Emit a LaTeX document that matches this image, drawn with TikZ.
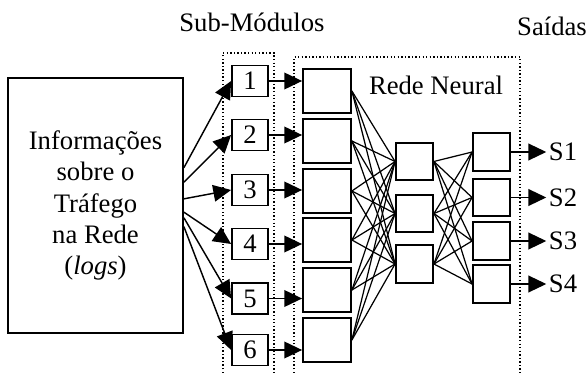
\documentclass[tikz,border=0pt]{standalone}
\usepackage{fontspec}
\setmainfont{Liberation Serif}
\usetikzlibrary{arrows.meta}

\begin{document}
\begin{tikzpicture}[
    x=0.45pt, y=-0.45pt,
    font=\fontsize{12}{14}\selectfont,
    bignode/.style={rectangle, draw, line width=0.8pt, minimum width=78.75pt, minimum height=114.75pt, align=center, inner sep=0pt},
    subnode/.style={rectangle, draw, line width=0.8pt, minimum width=16.2pt, minimum height=14pt, inner sep=0pt},
    inpnode/.style={rectangle, draw, line width=0.8pt, minimum width=21.6pt, minimum height=19.8pt, inner sep=0pt},
    neunode/.style={rectangle, draw, line width=0.8pt, minimum width=16.7pt, minimum height=16.9pt, inner sep=0pt},
    bigarrow/.style={-{Triangle[length=8pt,width=7.5pt]}, line width=0.65pt},
    frame/.style={densely dotted, line width=0.6pt},
    link/.style={line width=0.55pt},
]
    \useasboundingbox (0,0) rectangle (587,373);

    %Frames
    \draw[frame] (223,380) |- (274,53) -- (274,380);
    \draw[frame] (294,380) |- (520,57) -- (520,380);

    %Nodes
    \node[bignode] (info) at (95.5,205.5) {Informações\\sobre o\\Tráfego\\na Rede\\(\textit{logs})};
    \node[anchor=base] (subtitle) at (252,32) {Sub-Módulos};
    \node[anchor=base] (outtitle) at (552,36) {Saídas};
    \node[anchor=base] (nettitle) at (436,95) {Rede Neural};

    \node[subnode] (sub1) at (250,81) {1};
    \node[subnode] (sub2) at (250,135) {2};
    \node[subnode] (sub3) at (250,190) {3};
    \node[subnode] (sub4) at (250,244) {4};
    \node[subnode] (sub5) at (250,298.5) {5};
    \node[subnode] (sub6) at (250,350) {6};

    \node[inpnode] (inp1) at (327,91) {};
    \node[inpnode] (inp2) at (327,141) {};
    \node[inpnode] (inp3) at (327,191) {};
    \node[inpnode] (inp4) at (327,240) {};
    \node[inpnode] (inp5) at (327,290) {};
    \node[inpnode] (inp6) at (327,340) {};

    \node[neunode] (hid1) at (414.5,161.5) {};
    \node[neunode] (hid2) at (414.5,213.5) {};
    \node[neunode] (hid3) at (414.5,264) {};

    \node[neunode] (out1) at (491.5,152) {};
    \node[neunode] (out2) at (491.5,197.5) {};
    \node[neunode] (out3) at (491.5,241) {};
    \node[neunode] (out4) at (491.5,284) {};

    \node[inner sep=1pt] (s1) at (563,152) {S1};
    \node[inner sep=1pt] (s2) at (563,197.5) {S2};
    \node[inner sep=1pt] (s3) at (563,241) {S3};
    \node[inner sep=1pt] (s4) at (563,284) {S4};

    %Lines
    \draw[bigarrow] ([yshift=17pt]info.east) -- (sub1.west);
    \draw[bigarrow] ([yshift=10.5pt]info.east) -- (sub2.west);
    \draw[bigarrow] ([yshift=3pt]info.east) -- (sub3.west);
    \draw[bigarrow] ([yshift=-3pt]info.east) -- (sub4.west);
    \draw[bigarrow] ([yshift=-5.5pt]info.east) -- (sub5.west);
    \draw[bigarrow] ([yshift=-9.5pt]info.east) -- (sub6.west);

    \foreach \i in {1,...,6}
        \draw[bigarrow] (sub\i.east) -- (sub\i.east -| inp\i.west);
    \foreach \i in {1,...,6}
        \foreach \j in {1,2,3}
            \draw[link] (inp\i.east) -- (hid\j.west);
    \foreach \j in {1,2,3}
        \foreach \k in {1,...,4}
            \draw[link] (hid\j.east) -- (out\k.west);
    \foreach \k in {1,...,4}
        \draw[bigarrow] (out\k.east) -- (s\k.west);
\end{tikzpicture}
\end{document}
